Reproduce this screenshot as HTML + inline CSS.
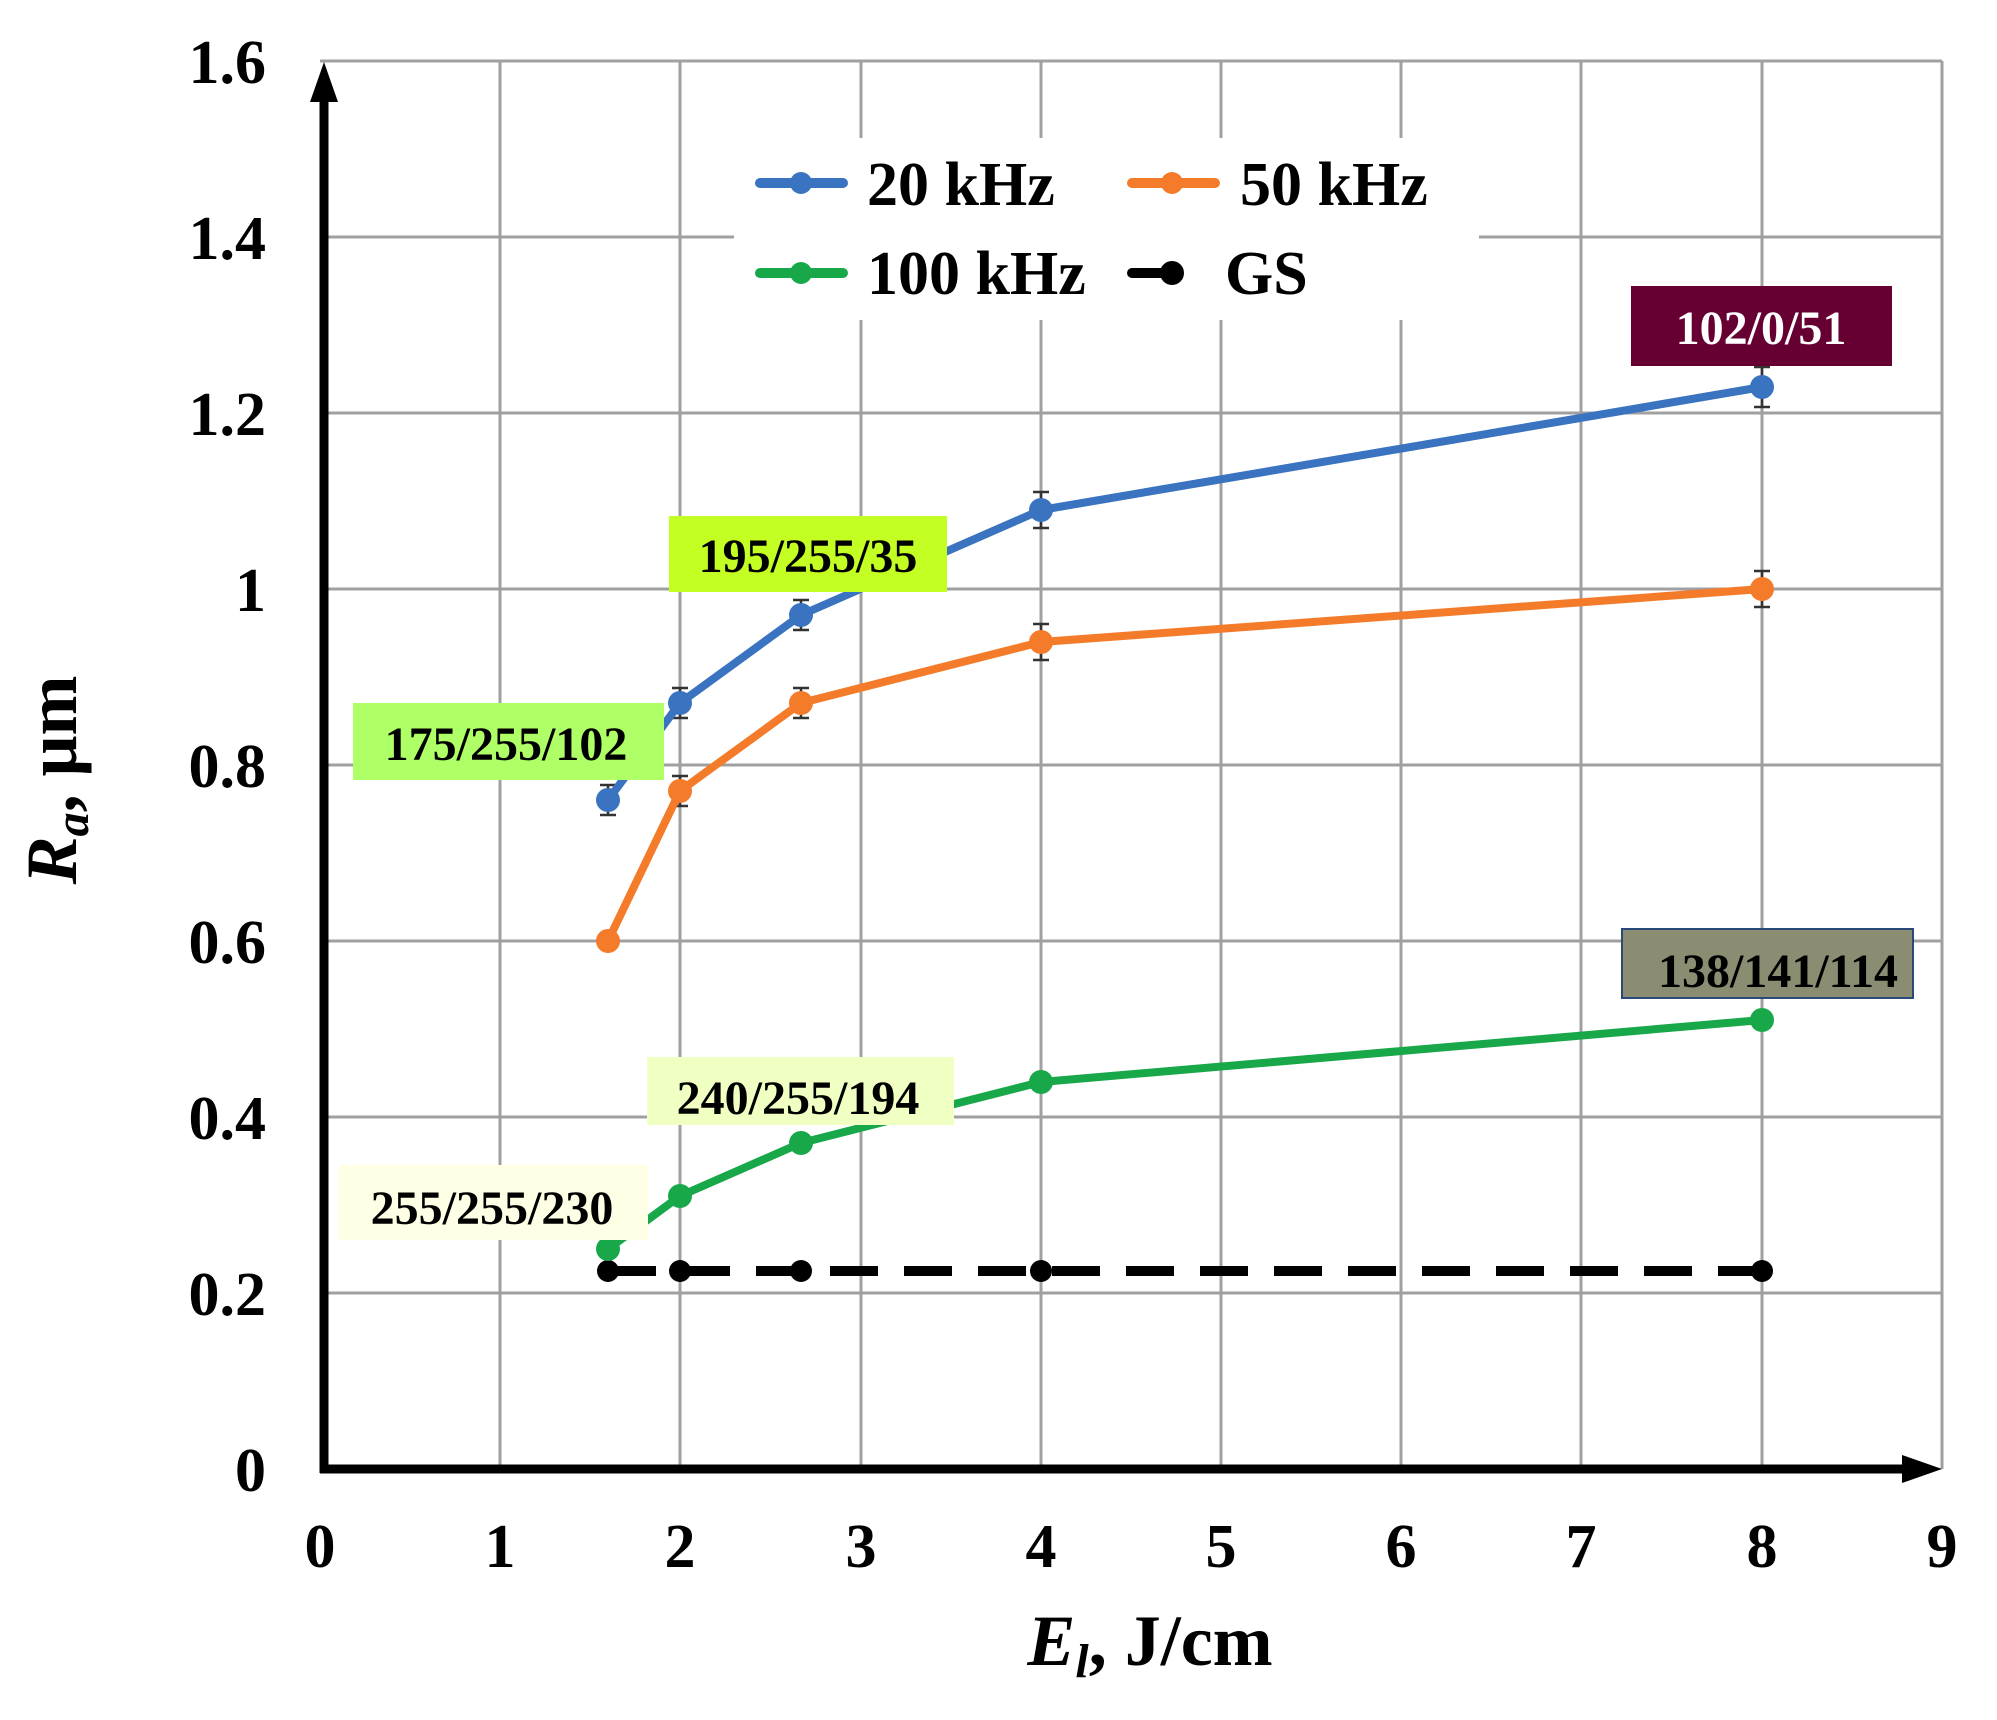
<!DOCTYPE html>
<html><head><meta charset="utf-8"><style>html,body{margin:0;padding:0;background:#fff}svg{display:block}</style></head>
<body>
<svg width="1997" height="1720" viewBox="0 0 1997 1720" xmlns="http://www.w3.org/2000/svg" font-family="Liberation Serif, serif" font-weight="bold">
<rect width="1997" height="1720" fill="#fff"/>
<g stroke="#a0a0a0" stroke-width="3">
<line x1="500" y1="61" x2="500" y2="1469"/><line x1="680" y1="61" x2="680" y2="1469"/><line x1="861" y1="61" x2="861" y2="1469"/><line x1="1041" y1="61" x2="1041" y2="1469"/><line x1="1221" y1="61" x2="1221" y2="1469"/><line x1="1401" y1="61" x2="1401" y2="1469"/><line x1="1581" y1="61" x2="1581" y2="1469"/><line x1="1762" y1="61" x2="1762" y2="1469"/><line x1="1942" y1="61" x2="1942" y2="1469"/>
<line x1="320" y1="61" x2="1942" y2="61"/><line x1="320" y1="237" x2="1942" y2="237"/><line x1="320" y1="413" x2="1942" y2="413"/><line x1="320" y1="589" x2="1942" y2="589"/><line x1="320" y1="765" x2="1942" y2="765"/><line x1="320" y1="941" x2="1942" y2="941"/><line x1="320" y1="1117" x2="1942" y2="1117"/><line x1="320" y1="1293" x2="1942" y2="1293"/>
</g>
<rect x="734" y="138" width="745" height="182" fill="#fff"/>
<line x1="324" y1="1473" x2="324" y2="100" stroke="#000" stroke-width="9"/>
<polygon points="324,62 310,102 338,102" fill="#000"/>
<line x1="320" y1="1469" x2="1905" y2="1469" stroke="#000" stroke-width="9"/>
<polygon points="1942,1469 1902,1455 1902,1483" fill="#000"/>
<g font-size="62" text-anchor="end" fill="#000">
<text x="266" y="83">1.6</text><text x="266" y="259">1.4</text><text x="266" y="435">1.2</text><text x="266" y="611">1</text><text x="266" y="787">0.8</text><text x="266" y="963">0.6</text><text x="266" y="1139">0.4</text><text x="266" y="1315">0.2</text><text x="266" y="1491">0</text>
</g>
<g font-size="62" text-anchor="middle" fill="#000">
<text x="320" y="1567">0</text><text x="500" y="1567">1</text><text x="680" y="1567">2</text><text x="861" y="1567">3</text><text x="1041" y="1567">4</text><text x="1221" y="1567">5</text><text x="1401" y="1567">6</text><text x="1581" y="1567">7</text><text x="1762" y="1567">8</text><text x="1942" y="1567">9</text>
</g>
<text x="1150" y="1665" font-size="72" text-anchor="middle"><tspan font-style="italic">E</tspan><tspan font-style="italic" font-size="48" dy="12">l</tspan><tspan dy="-12">, J/cm</tspan></text>
<text transform="translate(76,780) rotate(-90)" font-size="72" text-anchor="middle"><tspan font-style="italic">R</tspan><tspan font-style="italic" font-size="48" dy="12">a</tspan><tspan dy="-12">, μm</tspan></text>
<line x1="608" y1="1271" x2="1762" y2="1271" stroke="#000" stroke-width="10" stroke-dasharray="48,26"/>
<g fill="#000"><circle cx="608" cy="1271" r="11"/><circle cx="680" cy="1271" r="11"/><circle cx="801" cy="1271" r="11"/><circle cx="1041" cy="1271" r="11"/><circle cx="1762" cy="1271" r="11"/></g>
<g stroke="#333" stroke-width="2.5">
<path d="M608 785v30M600 785h16M600 815h16 M680 688v30M672 688h16M672 718h16 M801 600v30M793 600h16M793 630h16 M1041 492v36M1033 492h16M1033 528h16 M1762 367v40M1754 367h16M1754 407h16"/>
<path d="M680 776v30M672 776h16M672 806h16 M801 688v30M793 688h16M793 718h16 M1041 624v36M1033 624h16M1033 660h16 M1762 571v36M1754 571h16M1754 607h16"/>
</g>
<polyline points="608,800 680,703 801,615 1041,510 1762,387" fill="none" stroke="#3a73c0" stroke-width="8" stroke-linejoin="round"/>
<g fill="#3a73c0"><circle cx="608" cy="800" r="12"/><circle cx="680" cy="703" r="12"/><circle cx="801" cy="615" r="12"/><circle cx="1041" cy="510" r="12"/><circle cx="1762" cy="387" r="12"/></g>
<polyline points="608,941 680,791 801,703 1041,642 1762,589" fill="none" stroke="#f47b2a" stroke-width="8" stroke-linejoin="round"/>
<g fill="#f47b2a"><circle cx="608" cy="941" r="12"/><circle cx="680" cy="791" r="12"/><circle cx="801" cy="703" r="12"/><circle cx="1041" cy="642" r="12"/><circle cx="1762" cy="589" r="12"/></g>
<polyline points="608,1249 680,1196 801,1143 1041,1082 1762,1020" fill="none" stroke="#18a84a" stroke-width="8" stroke-linejoin="round"/>
<g fill="#18a84a"><circle cx="608" cy="1249" r="12"/><circle cx="680" cy="1196" r="12"/><circle cx="801" cy="1143" r="12"/><circle cx="1041" cy="1082" r="12"/><circle cx="1762" cy="1020" r="12"/></g>
<g stroke-width="10" stroke-linecap="round">
<line x1="760" y1="183" x2="843" y2="183" stroke="#3a73c0"/><circle cx="801" cy="183" r="11" fill="#3a73c0" stroke="none"/>
<line x1="1132" y1="183" x2="1215" y2="183" stroke="#f47b2a"/><circle cx="1172" cy="183" r="11" fill="#f47b2a" stroke="none"/>
<line x1="760" y1="273" x2="843" y2="273" stroke="#18a84a"/><circle cx="801" cy="273" r="11" fill="#18a84a" stroke="none"/>
<line x1="1132" y1="273" x2="1170" y2="273" stroke="#000"/><circle cx="1172" cy="273" r="12" fill="#000" stroke="none"/>
</g>
<g font-size="62" fill="#000">
<text x="867" y="205">20 kHz</text><text x="1240" y="205">50 kHz</text>
<text x="867" y="294">100 kHz</text><text x="1225" y="294">GS</text>
</g>
<g font-size="48" text-anchor="middle">
<rect x="1631" y="286" width="261" height="80" fill="#660033"/><text x="1761" y="344" fill="#fff">102/0/51</text>
<rect x="669" y="516" width="278" height="76" fill="#c3ff23"/><text x="808" y="572" fill="#000">195/255/35</text>
<rect x="353" y="703" width="311" height="77" fill="#afff66"/><text x="506" y="760" fill="#000">175/255/102</text>
<rect x="1622" y="929" width="291" height="69" fill="#8a8d72" stroke="#2a4a7a" stroke-width="2"/><text x="1778" y="987" fill="#000">138/141/114</text>
<rect x="647" y="1057" width="307" height="68" fill="#f0ffc2"/><text x="798" y="1114" fill="#000">240/255/194</text>
<rect x="339" y="1165" width="309" height="75" fill="#ffffe6"/><text x="492" y="1224" fill="#000">255/255/230</text>
</g>
</svg>
</body></html>
